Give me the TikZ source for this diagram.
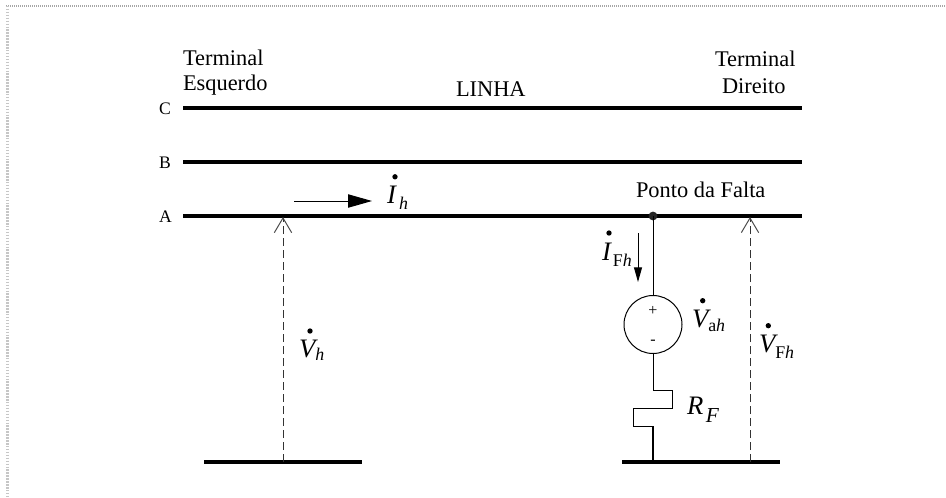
\documentclass[tikz,border=0pt]{standalone}
\usepackage{fontspec}
\setmainfont{Liberation Serif}
\usetikzlibrary{arrows.meta}
\newcommand{\fsz}[1]{\fontsize{#1}{#1}\selectfont}
\tikzset{
  bus/.style={line width=2.5pt},
  wire/.style={line width=0.75pt},
  volt/.style={line width=0.75pt,dash pattern=on 6pt off 3pt,gray!40!black,-{Straight Barb[length=11pt,width=13pt,black!70]}},
  cur/.style={line width=0.75pt},
  txt/.style={inner sep=0pt,outer sep=0pt,anchor=base west,font=\fsz{16.8pt}},
  phase/.style={inner sep=0pt,outer sep=0pt,anchor=base west,font=\fsz{13.2pt}},
  sym/.style={inner sep=0pt,outer sep=0pt,anchor=base west,font=\fsz{20pt}\itshape},
  src/.style={circle,draw,line width=0.75pt,minimum size=43.5pt,inner sep=0pt},
  symdot/.style={fill=black},
}
\newcommand{\subs}[2]{\raisebox{#1}{\fsz{13.4pt}#2}}
\begin{document}
\begin{tikzpicture}[x=0.75pt,y=-0.75pt]
\useasboundingbox (0,0) rectangle (946,497);
% page frame
\draw[gray!70,line width=0.8pt,dash pattern=on 0.75pt off 0.75pt] (6,6) -- (946,6);
\draw[gray!45,line width=2.4pt,dash pattern=on 1.1pt off 1.1pt] (7.5,6) -- (7.5,497);
% buses
\coordinate (cL) at (183,108); \coordinate (cR) at (802,108);
\coordinate (bL) at (183,162); \coordinate (bR) at (802,162);
\coordinate (aL) at (183,216); \coordinate (aR) at (802,216);
\coordinate (g1L) at (204,462); \coordinate (g1R) at (362,462);
\coordinate (g2L) at (622,462); \coordinate (g2R) at (780,462);
\draw[bus] (cL) -- (cR);
\draw[bus] (bL) -- (bR);
\draw[bus] (aL) -- (aR);
\draw[bus] (g1L) -- (g1R);
\draw[bus] (g2L) -- (g2R);
% fault branch
\coordinate (fault) at (653,216);
\coordinate (gf) at (653,462);
\node[src] (va) at (653,324.5) {};
\fill[black!85] (fault) circle (3.3pt);
\draw[wire] (fault) -- (va.north);
\draw[wire] (va.south) -- (653,390) -- (672.5,390) -- (672.5,408) -- (633,408) -- (633,426) -- (653,426);
\draw[line width=1.2pt] (653,426) -- (gf);
\node[inner sep=0pt,font=\fsz{12pt}] (plus) at (653,311) {+};
\node[inner sep=0pt,font=\fsz{12pt}] (minus) at (653,342) {-};
% voltage arrows
\coordinate (v1b) at (283,462); \coordinate (v1t) at (283,217);
\coordinate (v2b) at (750,462); \coordinate (v2t) at (750,217);
\draw[volt] (v1b) -- (v1t);
\draw[volt] (v2b) -- (v2t);
% current arrows
\coordinate (i1s) at (294,201); \coordinate (i1e) at (372,201);
\coordinate (i2s) at (638,233); \coordinate (i2e) at (638,282);
\draw[cur,-{Triangle[length=18pt,width=10pt]}] (i1s) -- (i1e);
\draw[cur,-{Triangle[length=11pt,width=6pt]}] (i2s) -- (i2e);
% texts
\node[txt] (t1) at (183,65) {Terminal};
\node[txt] (t2) at (183,90) {Esquerdo};
\node[txt] (lin) at (456,96) {LINHA};
\node[txt] (t3) at (715,66) {Terminal};
\node[txt] (t4) at (722,93) {Direito};
\node[txt] (pf) at (636,197) {Ponto da Falta};
\node[phase] (lc) at (159,114) {C};
\node[phase] (lb) at (159,168) {B};
\node[phase] (la) at (159,222) {A};
% symbols
\node[sym] (ih) at (387,203) {I\hspace{2.5pt}\subs{-5pt}{h}};
\node[sym] (ifh) at (602,260) {I\hspace{1.5pt}\subs{-4.5pt}{\upshape F\itshape h}};
\node[sym] (vah) at (692,327) {V\subs{-3pt}{\upshape a\itshape h}};
\node[sym] (vfh) at (759,352) {V\subs{-4.5pt}{\upshape F\itshape h}};
\node[sym] (vh) at (299,357) {V\subs{-2.5pt}{h}};
\node[sym] (rf) at (687,414) {R\hspace{2pt}\raisebox{-6pt}{\fsz{16pt}F}};
% dots over the symbols
\fill[symdot] (395,176.8) circle (2pt);
\fill[symdot] (609,233) circle (2pt);
\fill[symdot] (702.7,300.7) circle (2pt);
\fill[symdot] (768.3,325.7) circle (2pt);
\fill[symdot] (310,331) circle (2pt);
\end{tikzpicture}
\end{document}
